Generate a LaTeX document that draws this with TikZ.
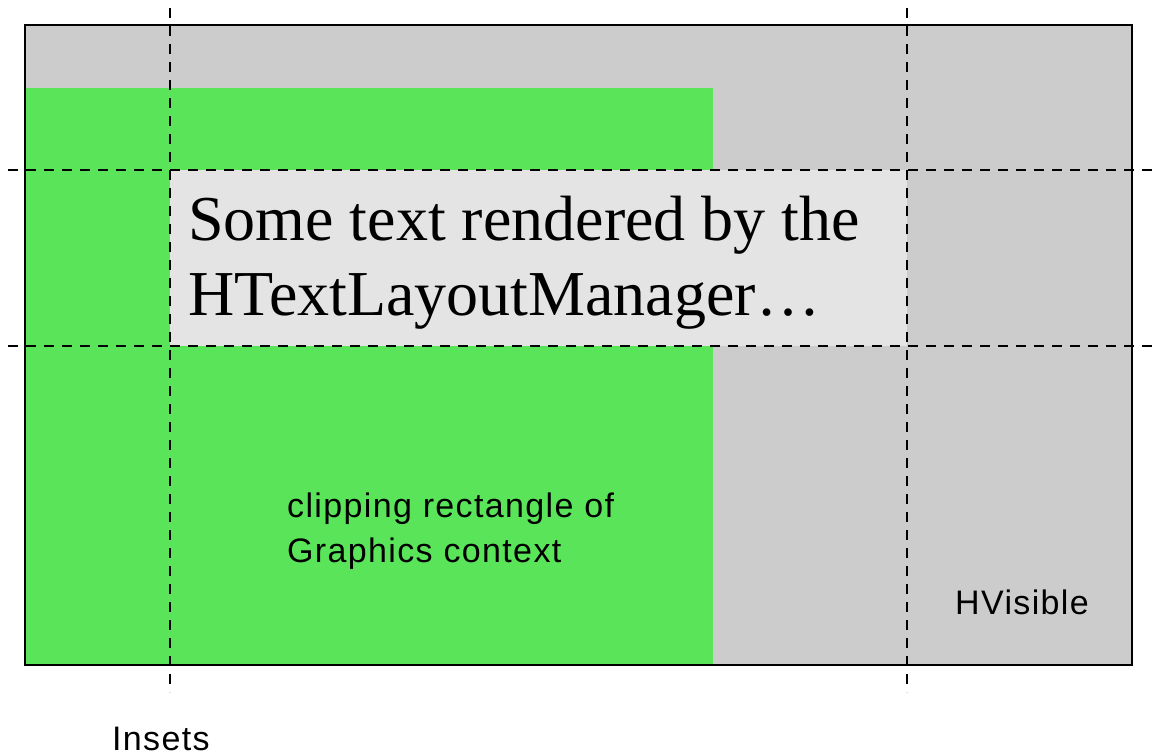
\documentclass[tikz,border=0pt]{standalone}
\usepackage{fontspec}
\setmainfont{Liberation Serif}
\newfontfamily\sansf[LetterSpace=4]{Liberation Sans}
\definecolor{panelgray}{RGB}{204,204,204}
\definecolor{clipgreen}{RGB}{90,228,90}
\definecolor{textbg}{RGB}{228,228,228}
\begin{document}
\begin{tikzpicture}[x=1pt,y=-1pt,
  guide/.style={draw=black,line width=2.8pt,dash pattern=on 10pt off 8pt},
  label/.style={font=\sansf\fontsize{34}{40}\selectfont,inner sep=0pt,align=left},
  bigtext/.style={anchor=base west,inner sep=0pt,font=\fontsize{64}{75}\selectfont}]
\useasboundingbox (0,0) rectangle (1155,755);
% coordinates
\coordinate (vtl) at (25,25);
\coordinate (vbr) at (1132,665);
\coordinate (gtl) at (25,88);
\coordinate (gbl) at (25,665);
\coordinate (gbr) at (713,665);
\coordinate (ttl) at (170,170);
\coordinate (tbr) at (907,346);
% HVisible panel
\fill[panelgray] (vtl) rectangle (vbr);
% clipping rectangle
\fill[clipgreen] (gtl) rectangle (gbr);
\draw[black,line width=2pt,dash pattern=on 2pt off 2pt] (gtl) -- (gbl);
% text area
\fill[textbg] (ttl) rectangle (tbr);
% border
\draw[black,line width=2.2pt] (vtl) rectangle (vbr);
% guide lines
\coordinate (g1t) at (170,8);  \coordinate (g1b) at (170,692);
\coordinate (g2t) at (907,8);  \coordinate (g2b) at (907,692);
\coordinate (h1l) at (8,170);  \coordinate (h1r) at (1155,170);
\coordinate (h2l) at (8,346);  \coordinate (h2r) at (1155,346);
\draw[guide] (g1t) -- (g1b);
\draw[guide] (g2t) -- (g2b);
\draw[guide] (h1l) -- (h1r);
\draw[guide] (h2l) -- (h2r);
% texts
\node[bigtext] (t1) at (188,240) {Some text rendered by the};
\node[bigtext] (t2) at (188,315) {HTextLayoutManager…};
\node[label,anchor=base west] (clip1) at (287,517) {clipping rectangle of};
\node[label,anchor=base west] (clip2) at (287,562) {Graphics context};
\node[label,anchor=base west] (hvis) at (955,614) {HVisible};
\node[label,anchor=base west] (ins) at (112,750) {Insets};
\end{tikzpicture}
\end{document}
